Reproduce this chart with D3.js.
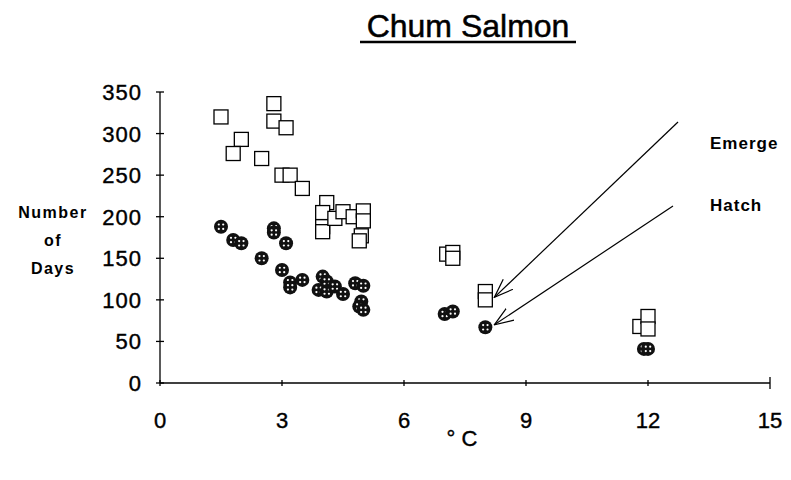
<!DOCTYPE html>
<html lang="en">
<head>
  <meta charset="utf-8" />
  <title>Chum Salmon</title>
  <script src="https://cdn.jsdelivr.net/npm/d3@7/dist/d3.min.js"></script>
  <style>
    body { margin: 0; background: #fff; font-family: "Liberation Sans", Arial, sans-serif; }
    text { fill: #000; }
  </style>
</head>
<body>
  <div id="chart"></div>
  <script>
    // Emerge (open squares): temperature in degC, days
    const emergeTemp = [1.5, 2.0, 1.8, 2.5, 2.8, 2.8, 3.1, 3.0, 3.2, 3.5,
                        4.1, 4.0, 4.0, 4.0, 4.3, 4.5, 4.75, 5.0, 5.0, 4.95, 4.9,
                        7.05, 7.2, 7.2, 8.0, 8.0, 11.8, 12.0, 12.0];
    const emergeDays = [320, 293, 276, 270, 336, 315, 307, 250, 250, 234,
                        217, 205, 188, 182, 198, 206, 200, 207, 195, 177, 171,
                        155, 157, 150, 110, 100, 68, 80, 65];

    // Hatch (filled circles)
    const hatchTemp = [1.5, 1.8, 2.0, 2.5, 2.8, 2.8, 3.1, 3.0, 3.2, 3.2, 3.5,
                       4.0, 3.9, 4.1, 4.1, 4.3, 4.5, 4.8, 5.0, 4.95, 4.9, 5.0,
                       7.0, 7.2, 8.0, 11.9, 12.0];
    const hatchDays = [188, 172, 168, 150, 186, 181, 168, 136, 121, 115, 124,
                       128, 112, 122, 110, 116, 107, 120, 117, 98, 92, 88,
                       83, 86, 67, 41, 41];

    const xTicks = [0, 3, 6, 9, 12, 15];
    const yTicks = [0, 50, 100, 150, 200, 250, 300, 350];

    const w = 791, h = 480;
    const svg = d3.select("#chart").append("svg")
      .attr("width", w).attr("height", h);

    const x = d3.scaleLinear().domain([0, 15]).range([160, 770]);
    const y = d3.scaleLinear().domain([0, 350]).range([383, 92]);

    // open arrow head for the annotations
    svg.append("defs").append("marker")
      .attr("id", "arrow")
      .attr("viewBox", "0 0 20 20")
      .attr("refX", 19).attr("refY", 10)
      .attr("markerWidth", 20).attr("markerHeight", 20)
      .attr("markerUnits", "userSpaceOnUse")
      .attr("orient", "auto")
      .append("path")
      .attr("d", "M0,3 L19,10 L0,17")
      .attr("fill", "none").attr("stroke", "#000").attr("stroke-width", 1.2);

    // title
    svg.append("text")
      .attr("x", 468).attr("y", 37)
      .attr("text-anchor", "middle")
      .attr("font-size", 32)
      .attr("stroke", "#000").attr("stroke-width", 0.5)
      .text("Chum Salmon");
    svg.append("line")
      .attr("x1", 360).attr("x2", 576).attr("y1", 42).attr("y2", 42)
      .attr("stroke", "#000").attr("stroke-width", 2.5);

    // y axis
    svg.append("line")
      .attr("x1", x(0)).attr("x2", x(0)).attr("y1", y(350)).attr("y2", y(0))
      .attr("stroke", "#000").attr("stroke-width", 1.3);
    svg.selectAll(".ytick").data(yTicks).enter().append("line")
      .attr("x1", x(0) - 4).attr("x2", x(0) + 4)
      .attr("y1", d => y(d)).attr("y2", d => y(d))
      .attr("stroke", "#000").attr("stroke-width", 1.3);
    svg.selectAll(".ylab").data(yTicks).enter().append("text")
      .attr("x", 142).attr("y", d => y(d) + 8)
      .attr("text-anchor", "end")
      .attr("font-size", 22)
      .attr("letter-spacing", 1)
      .attr("stroke", "#000").attr("stroke-width", 0.4)
      .text(d => d);

    // x axis
    svg.append("line")
      .attr("x1", x(0)).attr("x2", x(15)).attr("y1", y(0)).attr("y2", y(0))
      .attr("stroke", "#000").attr("stroke-width", 1.3);
    svg.selectAll(".xtick").data(xTicks).enter().append("line")
      .attr("x1", d => x(d)).attr("x2", d => x(d))
      .attr("y1", d => y(0) - (d === 15 ? 6 : 3)).attr("y2", d => y(0) + (d === 15 ? 6 : 3))
      .attr("stroke", "#000").attr("stroke-width", 1.3);
    svg.selectAll(".xlab").data(xTicks).enter().append("text")
      .attr("x", d => x(d)).attr("y", 428)
      .attr("text-anchor", "middle")
      .attr("font-size", 22)
      .attr("stroke", "#000").attr("stroke-width", 0.4)
      .text(d => d);

    // axis titles
    svg.append("text").attr("x", 462).attr("y", 446)
      .attr("text-anchor", "middle").attr("font-size", 22)
      .attr("stroke", "#000").attr("stroke-width", 0.4)
      .text("° C");
    const yTitle = svg.append("text")
      .attr("text-anchor", "middle").attr("font-size", 16).attr("font-weight", "bold")
      .attr("letter-spacing", 1.5);
    ["Number", "of", "Days"].forEach((t, i) => {
      yTitle.append("tspan").attr("x", 53).attr("y", 218 + i * 28).text(t);
    });

    // emerge markers
    const emerge = emergeTemp.map((t, i) => ({ t, d: emergeDays[i] }));
    svg.selectAll(".emerge").data(emerge).enter().append("rect")
      .attr("x", d => x(d.t) - 7).attr("y", d => y(d.d) - 7)
      .attr("width", 14).attr("height", 14)
      .attr("fill", "#fff").attr("stroke", "#000").attr("stroke-width", 1.3);

    // hatch markers (dark disc with light speckles)
    const hatch = hatchTemp.map((t, i) => ({ t, d: hatchDays[i] }));
    const hg = svg.selectAll(".hatch").data(hatch).enter().append("g")
      .attr("transform", d => `translate(${x(d.t)},${y(d.d)})`);
    hg.append("circle").attr("r", 7).attr("fill", "#111");
    [[-2.2, -2.2], [2.2, -2.2], [-2.2, 2.2], [2.2, 2.2]].forEach(([dx, dy]) => {
      hg.append("circle").attr("cx", dx).attr("cy", dy).attr("r", 1.1).attr("fill", "#fff");
    });

    // annotations
    svg.append("line")
      .attr("x1", 678).attr("y1", 122).attr("x2", x(8) + 9).attr("y2", y(103))
      .attr("stroke", "#000").attr("stroke-width", 1.2)
      .attr("marker-end", "url(#arrow)");
    svg.append("line")
      .attr("x1", 673).attr("y1", 206).attr("x2", x(8) + 9).attr("y2", y(70))
      .attr("stroke", "#000").attr("stroke-width", 1.2)
      .attr("marker-end", "url(#arrow)");
    svg.append("text").attr("x", 710).attr("y", 149)
      .attr("font-size", 17).attr("font-weight", "bold").attr("letter-spacing", 1)
      .text("Emerge");
    svg.append("text").attr("x", 710).attr("y", 211)
      .attr("font-size", 17).attr("font-weight", "bold").attr("letter-spacing", 1)
      .text("Hatch");
  </script>
</body>
</html>
